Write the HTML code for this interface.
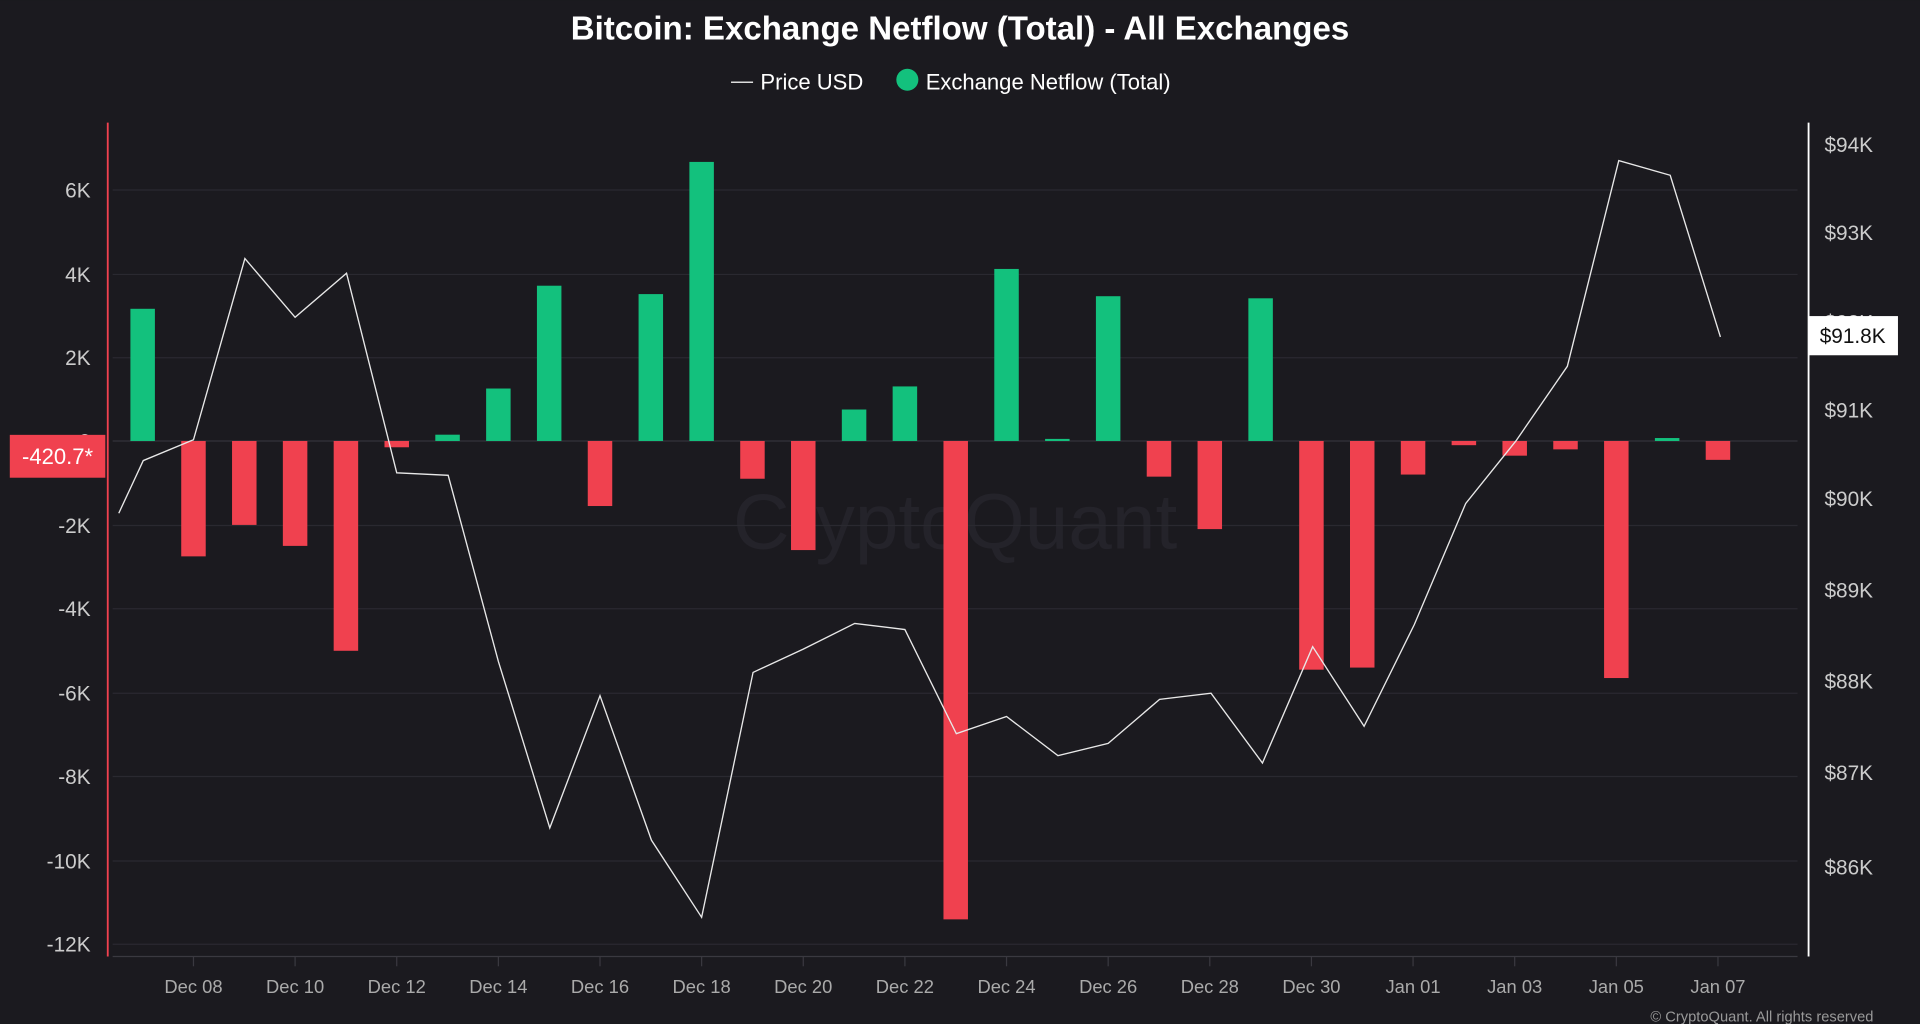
<!DOCTYPE html>
<html><head><meta charset="utf-8"><style>
html,body{margin:0;padding:0;background:#1b1a1f;}
svg{display:block;}
text{font-family:"Liberation Sans",sans-serif;}
</style></head><body>
<svg width="1920" height="1024" viewBox="0 0 1568 836" xmlns="http://www.w3.org/2000/svg">
<rect width="1568" height="836" fill="#1b1a1f"/>
<text x="784" y="32" text-anchor="middle" fill="#fff" font-size="27" font-weight="bold">Bitcoin: Exchange Netflow (Total) - All Exchanges</text>
<line x1="597" y1="67" x2="615" y2="67" stroke="#ddd" stroke-width="1.2"/>
<text x="621" y="73" fill="#fff" font-size="18">Price USD</text>
<circle cx="741" cy="65" r="9" fill="#13c17d"/>
<text x="756" y="73" fill="#fff" font-size="18">Exchange Netflow (Total)</text>
<text x="780" y="448" text-anchor="middle" fill="#24232a" font-size="64">CryptoQuant</text>
<g stroke="#2a2930" stroke-width="1">
<line x1="92" y1="155" x2="1468" y2="155"/><line x1="92" y1="224" x2="1468" y2="224"/>
<line x1="92" y1="292" x2="1468" y2="292"/><line x1="92" y1="429" x2="1468" y2="429"/>
<line x1="92" y1="497" x2="1468" y2="497"/><line x1="92" y1="566" x2="1468" y2="566"/>
<line x1="92" y1="634" x2="1468" y2="634"/><line x1="92" y1="703" x2="1468" y2="703"/>
<line x1="92" y1="771" x2="1468" y2="771"/>
</g>
<line x1="92" y1="360" x2="1468" y2="360" stroke="#34333a" stroke-width="1"/>
<line x1="92" y1="781" x2="1468" y2="781" stroke="#3a3940" stroke-width="1"/>
<g fill="#ccc" font-size="17" text-anchor="end">
<text x="74" y="161">6K</text><text x="74" y="230">4K</text><text x="74" y="298">2K</text>
<text x="74" y="366">0</text><text x="74" y="435">-2K</text><text x="74" y="503">-4K</text>
<text x="74" y="572">-6K</text><text x="74" y="640">-8K</text><text x="74" y="709">-10K</text>
<text x="74" y="777">-12K</text>
</g>
<g fill="#ccc" font-size="17">
<text x="1490" y="124">$94K</text><text x="1490" y="196">$93K</text><text x="1490" y="269">$92K</text>
<text x="1490" y="341">$91K</text><text x="1490" y="413">$90K</text><text x="1490" y="488">$89K</text>
<text x="1490" y="562">$88K</text><text x="1490" y="637">$87K</text><text x="1490" y="714">$86K</text>
</g>
<g fill="#13c17d">
<rect x="106.5" y="252.05" width="20" height="107.95"/>
<rect x="355.5" y="354.86" width="20" height="5.14"/>
<rect x="397" y="317.16" width="20" height="42.84"/>
<rect x="438.5" y="233.2" width="20" height="126.8"/>
<rect x="521.5" y="240.05" width="20" height="119.95"/>
<rect x="563" y="132.1" width="20" height="227.9"/>
<rect x="687.5" y="334.3" width="20" height="25.7"/>
<rect x="729" y="315.45" width="20" height="44.55"/>
<rect x="812" y="219.5" width="20" height="140.5"/>
<rect x="853.5" y="358.3" width="20" height="1.7"/>
<rect x="895" y="241.77" width="20" height="118.23"/>
<rect x="1019.5" y="243.48" width="20" height="116.52"/>
<rect x="1351.5" y="357.6" width="20" height="2.4"/>
</g>
<g fill="#f0414f">
<rect x="148" y="360" width="20" height="94.24"/>
<rect x="189.5" y="360" width="20" height="68.54"/>
<rect x="231" y="360" width="20" height="85.68"/>
<rect x="272.5" y="360" width="20" height="171.35"/>
<rect x="314" y="360" width="20" height="5.14"/>
<rect x="480" y="360" width="20" height="53.12"/>
<rect x="604.5" y="360" width="20" height="30.84"/>
<rect x="646" y="360" width="20" height="89.1"/>
<rect x="770.5" y="360" width="20" height="390.68"/>
<rect x="936.5" y="360" width="20" height="29.13"/>
<rect x="978" y="360" width="20" height="71.97"/>
<rect x="1061" y="360" width="20" height="186.77"/>
<rect x="1102.5" y="360" width="20" height="185.06"/>
<rect x="1144" y="360" width="20" height="27.42"/>
<rect x="1185.5" y="360" width="20" height="3.43"/>
<rect x="1227" y="360" width="20" height="12"/>
<rect x="1268.5" y="360" width="20" height="6.85"/>
<rect x="1310" y="360" width="20" height="193.6"/>
<rect x="1393" y="360" width="20" height="15.42"/>
</g>
<polyline fill="none" stroke="#e8e8e8" stroke-width="1.1" points="97,419 117,376 158,359 200,211 241,259 283,223 324,386 366,388 407,540 449,676 490,568 532,686 573,749 615,549 656,530 698,509 739,514 781,599 822,585 864,617 905,607 947,571 989,566 1031,623 1072,528 1114,593 1155,510 1197,411 1238,360 1280,299 1322,131 1364,143 1405,275"/>
<line x1="88" y1="100" x2="88" y2="781" stroke="#f0414f" stroke-width="1.5"/>
<line x1="1477" y1="100" x2="1477" y2="781" stroke="#fff" stroke-width="1.5"/>
<rect x="8" y="355" width="78" height="35" fill="#f0414f"/>
<text x="47" y="379" text-anchor="middle" fill="#fff" font-size="18">-420.7*</text>
<rect x="1477" y="258" width="73" height="32" fill="#fff"/>
<text x="1513" y="280" text-anchor="middle" fill="#111" font-size="17">$91.8K</text>
<g stroke="#3a3940">
<line x1="158" y1="781" x2="158" y2="789"/><line x1="241" y1="781" x2="241" y2="789"/>
<line x1="324" y1="781" x2="324" y2="789"/><line x1="407" y1="781" x2="407" y2="789"/>
<line x1="490" y1="781" x2="490" y2="789"/><line x1="573" y1="781" x2="573" y2="789"/>
<line x1="656" y1="781" x2="656" y2="789"/><line x1="739" y1="781" x2="739" y2="789"/>
<line x1="822" y1="781" x2="822" y2="789"/><line x1="905" y1="781" x2="905" y2="789"/>
<line x1="988" y1="781" x2="988" y2="789"/><line x1="1071" y1="781" x2="1071" y2="789"/>
<line x1="1154" y1="781" x2="1154" y2="789"/><line x1="1237" y1="781" x2="1237" y2="789"/>
<line x1="1320" y1="781" x2="1320" y2="789"/><line x1="1403" y1="781" x2="1403" y2="789"/>
</g>
<g fill="#aaa" font-size="15" text-anchor="middle">
<text x="158" y="811">Dec 08</text><text x="241" y="811">Dec 10</text><text x="324" y="811">Dec 12</text>
<text x="407" y="811">Dec 14</text><text x="490" y="811">Dec 16</text><text x="573" y="811">Dec 18</text>
<text x="656" y="811">Dec 20</text><text x="739" y="811">Dec 22</text><text x="822" y="811">Dec 24</text>
<text x="905" y="811">Dec 26</text><text x="988" y="811">Dec 28</text><text x="1071" y="811">Dec 30</text>
<text x="1154" y="811">Jan 01</text><text x="1237" y="811">Jan 03</text><text x="1320" y="811">Jan 05</text>
<text x="1403" y="811">Jan 07</text>
</g>
<text x="1530" y="834" text-anchor="end" fill="#999" font-size="12">© CryptoQuant. All rights reserved</text>
</svg>
</body></html>
